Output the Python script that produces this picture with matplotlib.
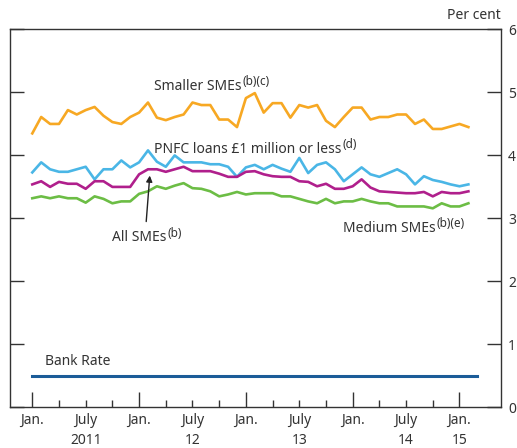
import matplotlib.pyplot as plt

plt.rcParams['font.family'] = ['Noto Sans', 'DejaVu Sans']

# months since Jan. 2011
months = list(range(50))
bank_months = list(range(51))

smaller_smes = [4.35, 4.61, 4.50, 4.50, 4.72, 4.65, 4.72, 4.77, 4.63, 4.53,
                4.50, 4.61, 4.68, 4.84, 4.60, 4.56, 4.61, 4.65, 4.84, 4.80,
                4.80, 4.57, 4.57, 4.45, 4.91, 4.99, 4.68, 4.83, 4.83, 4.60,
                4.80, 4.76, 4.80, 4.55, 4.45, 4.61, 4.76, 4.76, 4.57, 4.61,
                4.61, 4.65, 4.65, 4.50, 4.57, 4.42, 4.42, 4.46, 4.50, 4.45]
pnfc_loans = [3.73, 3.89, 3.78, 3.74, 3.74, 3.78, 3.82, 3.62, 3.78, 3.78,
              3.92, 3.81, 3.89, 4.08, 3.90, 3.82, 4.00, 3.89, 3.89, 3.89,
              3.86, 3.86, 3.82, 3.66, 3.81, 3.85, 3.78, 3.85, 3.79, 3.74,
              3.96, 3.72, 3.85, 3.89, 3.78, 3.59, 3.70, 3.81, 3.70, 3.66,
              3.72, 3.78, 3.70, 3.54, 3.67, 3.61, 3.58, 3.54, 3.51, 3.54]
all_smes = [3.54, 3.59, 3.50, 3.58, 3.55, 3.55, 3.47, 3.59, 3.59, 3.50,
            3.50, 3.50, 3.70, 3.78, 3.78, 3.74, 3.78, 3.82, 3.75, 3.75,
            3.75, 3.71, 3.66, 3.66, 3.74, 3.75, 3.70, 3.67, 3.66, 3.66,
            3.59, 3.58, 3.51, 3.55, 3.47, 3.47, 3.51, 3.62, 3.49, 3.43,
            3.42, 3.41, 3.40, 3.40, 3.42, 3.35, 3.42, 3.40, 3.40, 3.43]
medium_smes = [3.32, 3.35, 3.32, 3.35, 3.32, 3.32, 3.25, 3.35, 3.31, 3.24,
               3.27, 3.27, 3.39, 3.43, 3.51, 3.47, 3.52, 3.56, 3.48, 3.47,
               3.43, 3.35, 3.38, 3.42, 3.38, 3.40, 3.40, 3.40, 3.35, 3.35,
               3.31, 3.27, 3.24, 3.31, 3.24, 3.27, 3.27, 3.31, 3.27, 3.24,
               3.24, 3.19, 3.19, 3.19, 3.19, 3.16, 3.24, 3.19, 3.19, 3.24]
bank_rate = [0.5] * 51

jan_ticks = [0, 12, 24, 36, 48]
quarter_ticks = [m for m in range(0, 51, 3) if m % 12 != 0]
quarter_labels = ["July" if m % 12 == 6 else "" for m in quarter_ticks]
year_labels = ["2011", "12", "13", "14", "15"]
year_pos = [6, 18, 30, 42, 48]

TXT = "#333333"
FS = 10


def label(ax, x, y, main, sup=None):
    """
        Подпись серии с надстрочным примечанием.
    """
    t = ax.text(x, y, main, fontsize=FS, color=TXT, va="center")
    if sup:
        ax.annotate(sup, xy=(1, 0.8), xycoords=t, xytext=(0.5, 0),
                    textcoords="offset points", fontsize=8.5, color=TXT,
                    va="center", ha="left")
    return t


fig = plt.figure(figsize=(5.17, 4.48), dpi=100)
ax = fig.add_axes([0.0184, 0.0908, 0.9506, 0.8434])

ax.plot(months, smaller_smes, color="#f7a823", lw=1.9)
ax.plot(months, pnfc_loans, color="#4ab6e6", lw=1.9)
ax.plot(months, all_smes, color="#b01f8c", lw=1.9)
ax.plot(months, medium_smes, color="#6cbd45", lw=1.9)
ax.plot(bank_months, bank_rate, color="#1b5c98", lw=2.2)

ax.set_xlim(-2.56, 52.66)
ax.set_ylim(0, 6)

for s in ax.spines.values():
    s.set_linewidth(1.0)
    s.set_color(TXT)

ax.yaxis.tick_right()
ax.set_yticks(range(7))
ax.tick_params(axis="y", which="major", direction="in", length=10, width=1,
               left=True, right=True, labelleft=False, labelright=True,
               labelsize=10, pad=5, colors=TXT)
ax.set_xticks(jan_ticks, ["Jan."] * 5)
ax.set_xticks(quarter_ticks, quarter_labels, minor=True)
ax.tick_params(axis="x", which="major", direction="in", length=11, width=1,
               labelsize=FS, pad=4, colors=TXT)
ax.tick_params(axis="x", which="minor", direction="in", length=5, width=1,
               labelsize=FS, pad=4, colors=TXT)

for pos, lab in zip(year_pos, year_labels):
    ax.text(pos, -0.087, lab, transform=ax.get_xaxis_transform(),
            ha="center", va="center", fontsize=FS, color=TXT)

ax.text(1.0, 1.038, "Per cent", transform=ax.transAxes, ha="right",
        va="center", fontsize=FS, color=TXT)

label(ax, 13.7, 5.1, "Smaller SMEs", "(b)(c)")
label(ax, 13.7, 4.1, "PNFC loans £1 million or less", "(d)")
label(ax, 34.9, 2.84, "Medium SMEs", "(b)(e)")
label(ax, 9.0, 2.69, "All SMEs", "(b)")
label(ax, 1.4, 0.73, "Bank Rate")

ax.annotate("", xy=(13.2, 3.68), xytext=(12.8, 2.95),
            arrowprops=dict(arrowstyle="-|>", color="#222222", lw=1,
                            mutation_scale=9, shrinkA=0, shrinkB=0))

fig.savefig("out.png", dpi=100)
